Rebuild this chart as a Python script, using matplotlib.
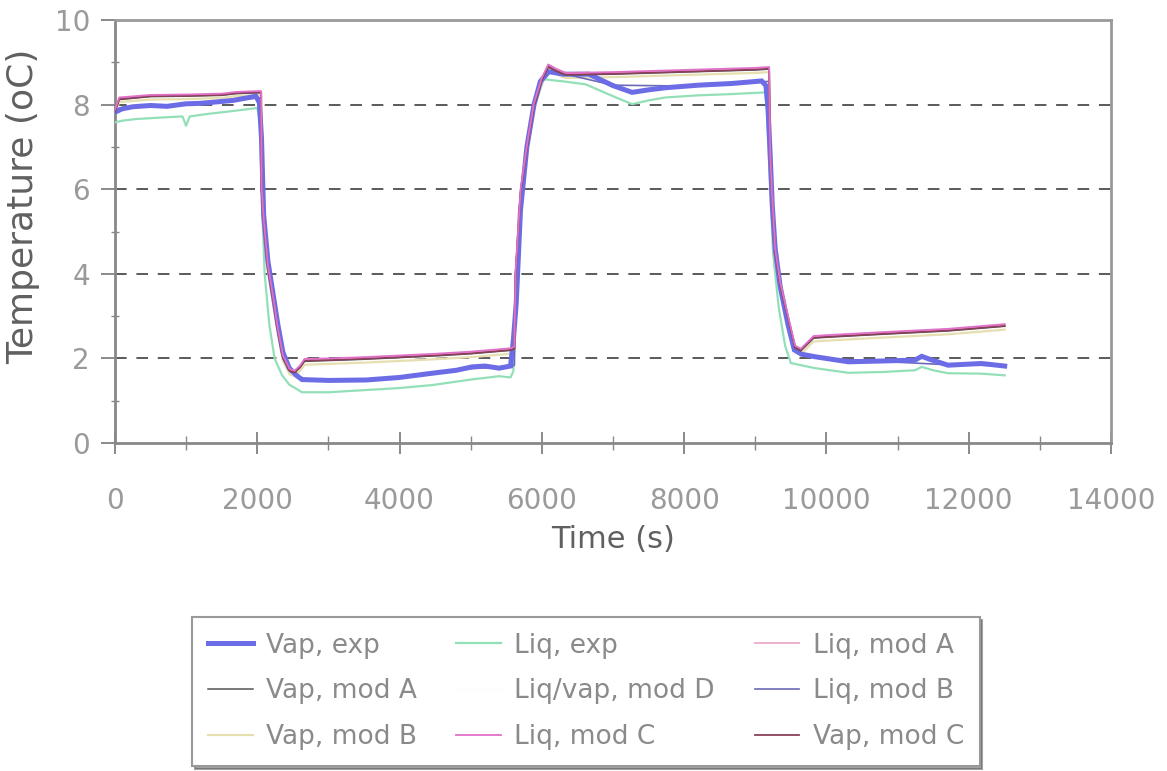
import matplotlib
matplotlib.use("Agg")
import matplotlib.pyplot as plt
from matplotlib.ticker import MultipleLocator

plt.rcParams["font.family"] = ["DejaVu Sans"]

# ---- experimental vapour temperature (s, oC)
t_vap_exp = [0, 100, 250, 500, 730, 1000, 1190, 1400, 1660, 1890, 1980, 2030, 2060,
             2090, 2150, 2220, 2290, 2360, 2450, 2550, 2630, 3000, 3530, 4000, 4460,
             4800, 5020, 5200, 5400, 5560, 5600, 5640, 5700, 5790, 5890, 5980, 6100,
             6300, 6662, 7000, 7270, 7500, 7740, 8200, 8670, 9090, 9150, 9180, 9210,
             9240, 9280, 9350, 9460, 9550, 9650, 9840, 10310, 10800, 11245, 11340,
             11450, 11710, 12180, 12506]
T_vap_exp = [7.82, 7.90, 7.95, 7.98, 7.96, 8.02, 8.03, 8.06, 8.10, 8.17, 8.20, 8.05, 7.20,
             5.40, 4.30, 3.55, 2.80, 2.15, 1.77, 1.60, 1.50, 1.48, 1.49, 1.55, 1.65,
             1.72, 1.80, 1.82, 1.77, 1.82, 2.43, 3.30, 5.50, 7.00, 8.00, 8.55, 8.78,
             8.72, 8.72, 8.45, 8.29, 8.35, 8.40, 8.46, 8.50, 8.56, 8.45, 7.90, 6.80,
             5.60, 4.60, 3.70, 2.80, 2.20, 2.10, 2.04, 1.92, 1.94, 1.96, 2.05,
             1.98, 1.84, 1.88, 1.82]

# ---- experimental liquid temperature
t_liq_exp = [0, 100, 300, 700, 950, 1000, 1050, 1300, 1660, 1900, 2000, 2040, 2060,
             2104, 2170, 2244, 2350, 2450, 2630, 3000, 3500, 4000, 4460, 5000, 5400,
             5560, 5600, 5630, 5700, 5800, 5900, 6030, 6300, 6616, 7000, 7270, 7500,
             7740, 8200, 8670, 9140, 9160, 9200, 9250, 9330, 9420, 9500, 9840, 10310,
             10800, 11245, 11340, 11500, 11710, 12180, 12506]
T_liq_exp = [7.58, 7.62, 7.66, 7.70, 7.72, 7.50, 7.72, 7.78, 7.85, 7.90, 7.92, 7.60, 6.00,
             4.00, 2.80, 2.00, 1.60, 1.38, 1.20, 1.20, 1.25, 1.30, 1.37, 1.50, 1.58,
             1.55, 1.70, 3.00, 5.50, 7.00, 8.00, 8.60, 8.55, 8.48, 8.20, 8.01, 8.10,
             8.17, 8.22, 8.25, 8.29, 8.00, 6.50, 4.50, 3.20, 2.30, 1.89, 1.77, 1.66,
             1.68, 1.72, 1.80, 1.72, 1.65, 1.64, 1.60]

# ---- model predictions share one time base
t_mod = [0, 60, 500, 1000, 1500, 1700, 2000, 2055, 2060, 2090, 2150, 2220, 2290,
         2360, 2455, 2525, 2600, 2665, 3000, 3500, 4000, 4500, 5000, 5560, 5615,
         5630, 5704, 5800, 5890, 6000, 6090, 6200, 6335, 7000, 8000, 9000, 9195,
         9210, 9240, 9280, 9350, 9460, 9560, 9640, 9700, 9820, 10000, 10770, 11710,
         12506]
T_liq_mod_a = [7.86, 8.15, 8.21, 8.22, 8.24, 8.28, 8.30, 8.30, 6.05, 5.26, 4.16, 3.45, 2.67,
               2.04, 1.72, 1.68, 1.80, 1.96, 1.97, 2.00, 2.04, 2.08, 2.13, 2.21, 2.25,
               4.00, 6.00, 7.10, 8.00, 8.60, 8.92, 8.82, 8.72, 8.74, 8.79, 8.84, 8.86,
               6.75, 5.73, 4.55, 3.77, 2.98, 2.27, 2.20, 2.30, 2.50, 2.52, 2.59, 2.67,
               2.78]
T_vap_mod_a = [7.84, 8.12, 8.19, 8.20, 8.22, 8.26, 8.28, 8.28, 6.00, 5.22, 4.12, 3.42, 2.64,
               2.01, 1.70, 1.66, 1.78, 1.93, 1.95, 1.98, 2.02, 2.06, 2.11, 2.19, 2.23,
               3.95, 5.95, 7.05, 7.96, 8.57, 8.89, 8.79, 8.70, 8.72, 8.77, 8.82, 8.84,
               6.70, 5.68, 4.50, 3.73, 2.95, 2.25, 2.18, 2.28, 2.48, 2.50, 2.57, 2.65,
               2.76]
T_liq_mod_c = [7.88, 8.17, 8.23, 8.24, 8.26, 8.30, 8.32, 8.32, 6.08, 5.29, 4.19, 3.48, 2.70,
               2.07, 1.75, 1.71, 1.83, 1.99, 2.00, 2.03, 2.07, 2.11, 2.16, 2.24, 2.28,
               4.03, 6.03, 7.13, 8.03, 8.63, 8.95, 8.85, 8.75, 8.77, 8.82, 8.87, 8.89,
               6.78, 5.76, 4.58, 3.80, 3.01, 2.30, 2.23, 2.33, 2.53, 2.55, 2.62, 2.70,
               2.81]
T_vap_mod_c = [7.83, 8.13, 8.20, 8.21, 8.23, 8.27, 8.29, 8.29, 6.02, 5.24, 4.14, 3.44, 2.66,
               2.03, 1.71, 1.67, 1.79, 1.95, 1.96, 1.99, 2.03, 2.07, 2.12, 2.20, 2.24,
               3.98, 5.98, 7.08, 7.98, 8.58, 8.90, 8.80, 8.71, 8.73, 8.78, 8.83, 8.85,
               6.73, 5.71, 4.53, 3.75, 2.97, 2.26, 2.19, 2.29, 2.49, 2.51, 2.58, 2.66,
               2.77]
T_vap_mod_b = [7.80, 8.06, 8.12, 8.13, 8.16, 8.20, 8.22, 8.22, 5.95, 5.15, 4.05, 3.35, 2.57,
               1.94, 1.62, 1.58, 1.70, 1.85, 1.87, 1.90, 1.94, 1.98, 2.03, 2.11, 2.15,
               3.90, 5.90, 7.00, 7.90, 8.50, 8.82, 8.72, 8.63, 8.65, 8.70, 8.75, 8.77,
               6.65, 5.63, 4.45, 3.67, 2.88, 2.17, 2.10, 2.20, 2.40, 2.42, 2.49, 2.57,
               2.68]
T_liq_mod_b = [7.82, 7.92, 7.98, 8.00, 8.06, 8.10, 8.16, 8.16, 6.00, 5.20, 4.10, 3.40, 2.62,
               2.00, 1.70, 1.62, 1.55, 1.52, 1.49, 1.49, 1.55, 1.64, 1.76, 1.80, 1.84,
               3.90, 5.90, 7.00, 7.95, 8.55, 8.76, 8.74, 8.72, 8.46, 8.44, 8.53, 8.55,
               6.60, 5.55, 4.50, 3.70, 2.85, 2.20, 2.12, 2.08, 2.04, 2.00, 1.93, 1.85,
               1.83]
T_liq_vap_mod_d = [7.85, 8.10, 8.15, 8.16, 8.19, 8.23, 8.25, 8.25, 6.00, 5.20, 4.10, 3.40, 2.62,
                   2.00, 1.68, 1.64, 1.75, 1.90, 1.92, 1.95, 1.99, 2.03, 2.08, 2.16, 2.20,
                   3.95, 5.95, 7.05, 7.95, 8.55, 8.86, 8.76, 8.67, 8.69, 8.74, 8.79, 8.81,
                   6.70, 5.68, 4.50, 3.72, 2.93, 2.22, 2.15, 2.25, 2.45, 2.47, 2.54, 2.62,
                   2.73]

x_ticks = [0, 2000, 4000, 6000, 8000, 10000, 12000, 14000]
y_ticks = [0, 2, 4, 6, 8, 10]

fig = plt.figure(figsize=(11.67, 7.71), dpi=100)
ax = fig.add_axes([0.0985, 0.4254, 0.8535, 0.5486])

ax.plot(t_mod, T_liq_vap_mod_d, color="#fbfbfb", lw=1.0, label="Liq/vap, mod D", zorder=2)
ax.plot(t_liq_exp, T_liq_exp, color="#93e0b8", lw=1.6, label="Liq, exp", zorder=3)
ax.plot(t_mod, T_vap_mod_b, color="#e6dfb0", lw=1.6, label="Vap, mod B", zorder=3)
ax.plot(t_mod, T_liq_mod_b, color="#6a6ab8", lw=1.2, label="Liq, mod B", zorder=3)
ax.plot(t_vap_exp, T_vap_exp, color="#6c6ce6", lw=3.6, label="Vap, exp", zorder=4,
        solid_joinstyle="miter")
ax.plot(t_mod, T_liq_mod_a, color="#eaaacb", lw=1.3, label="Liq, mod A", zorder=5)
ax.plot(t_mod, T_vap_mod_a, color="#555555", lw=1.1, label="Vap, mod A", zorder=5)
ax.plot(t_mod, T_vap_mod_c, color="#8a4058", lw=1.3, label="Vap, mod C", zorder=6)
ax.plot(t_mod, T_liq_mod_c, color="#e070c8", lw=1.3, label="Liq, mod C", zorder=6)

ax.set_xlim(0, 14000)
ax.set_ylim(0, 10)
ax.set_xticks(x_ticks)
ax.set_yticks(y_ticks)
ax.xaxis.set_minor_locator(MultipleLocator(1000))
ax.yaxis.set_minor_locator(MultipleLocator(1))

for y in [2, 4, 6, 8]:
    ax.axhline(y, color="#5a5a5a", lw=1.4, ls=(0, (6, 5)), zorder=1)

for side in ["left", "bottom"]:
    ax.spines[side].set_color("#888888")
    ax.spines[side].set_linewidth(2.0)
for side in ["top", "right"]:
    ax.spines[side].set_color("#999999")
    ax.spines[side].set_linewidth(2.0)

ax.tick_params(axis="x", which="major", direction="inout", length=16, width=1.2,
               color="#777777", labelsize=20, labelcolor="#9a9a9a", pad=24)
ax.tick_params(axis="x", which="minor", direction="inout", length=10, width=1.0,
               color="#888888")
ax.tick_params(axis="y", which="major", direction="out", length=10, width=1.2,
               color="#777777", labelsize=20, labelcolor="#9a9a9a", pad=8)
ax.tick_params(axis="y", which="minor", direction="inout", length=6, width=1.0,
               color="#888888")

ax.set_xlabel("Time (s)", fontsize=22, color="#606060")
ax.xaxis.set_label_coords(0.5, -0.195)
ax.set_ylabel("Temperature (oC)", fontsize=26, color="#606060")
ax.yaxis.set_label_coords(-0.075, 0.56)

handles, labels = ax.get_legend_handles_labels()
order = ["Vap, exp", "Vap, mod A", "Vap, mod B",
         "Liq, exp", "Liq/vap, mod D", "Liq, mod C",
         "Liq, mod A", "Liq, mod B", "Vap, mod C"]
hmap = dict(zip(labels, handles))
leg = fig.legend([hmap[k] for k in order], order, loc="upper left",
                 bbox_to_anchor=(0.1645, 0.2), bbox_transform=fig.transFigure,
                 ncol=3, fontsize=19, frameon=True, fancybox=False, shadow=True,
                 handlelength=1.7, handletextpad=0.5, columnspacing=1.5,
                 labelspacing=0.75, borderpad=0.6, borderaxespad=0)
leg.get_frame().set_edgecolor("#999999")
leg.get_frame().set_linewidth(1.5)
for txt in leg.get_texts():
    txt.set_color("#8a8a8a")

fig.savefig("out.png", dpi=100)
